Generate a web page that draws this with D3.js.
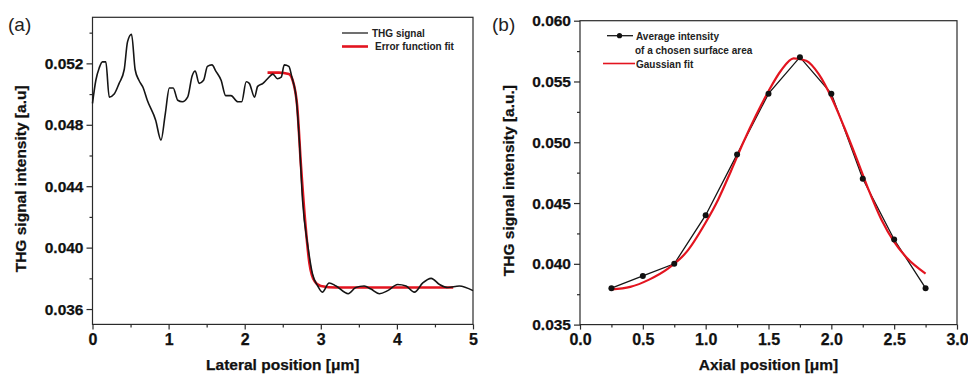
<!DOCTYPE html>
<html><head><meta charset="utf-8">
<script src="https://cdn.jsdelivr.net/npm/d3@7"></script>
<style>
html,body{margin:0;padding:0;background:#fff;}
svg{display:block;font-family:"Liberation Sans",Arial,sans-serif;}
</style></head>
<body><svg id="chart" width="968" height="375"></svg>
<script>
// ---------- Panel (a) data ----------
const thgX = [0,0.044,0.088,0.13,0.175,0.22,0.285,0.35,0.417,0.46,0.513,0.56,0.61,0.667,0.72,0.83,0.9,0.956,1.01,1.06,1.12,1.18,1.25,1.31,1.35,1.40,1.46,1.51,1.57,1.62,1.69,1.75,1.82,1.91,1.96,2.02,2.06,2.13,2.17,2.24,2.30,2.37,2.43,2.48,2.52,2.58,2.62,2.68,2.72,2.76,2.83,2.89,2.96,3.02,3.11,3.2,3.36,3.46,3.57,3.66,3.77,3.88,4.01,4.12,4.23,4.34,4.45,4.56,4.67,4.82,5.0];
const thgY = [0.0494,0.0509,0.0517,0.0521,0.0521,0.0498,0.0500,0.0507,0.0516,0.0534,0.0539,0.0516,0.0509,0.0504,0.0496,0.0483,0.0470,0.0487,0.0504,0.0504,0.0496,0.0495,0.0498,0.0512,0.0515,0.0507,0.0509,0.0518,0.0519,0.0515,0.0509,0.0499,0.0499,0.0495,0.0495,0.0508,0.0507,0.0498,0.0505,0.0507,0.0510,0.0513,0.0510,0.0511,0.0519,0.0518,0.0511,0.0496,0.0468,0.0431,0.0401,0.0383,0.0375,0.0371,0.0377,0.0375,0.0370,0.0374,0.0375,0.0373,0.0370,0.0372,0.0376,0.0375,0.0371,0.0377,0.0380,0.0376,0.0374,0.0375,0.0372];
const erfX = [2.30,2.45,2.58,2.63,2.69,2.74,2.80,2.85,2.92,3.00,3.20,4.00,4.74];
const erfY = [0.0514,0.0514,0.0513,0.0509,0.0492,0.0453,0.0414,0.0390,0.0378,0.0375,0.0374,0.0374,0.0374];
const aXTicks = [0,1,2,3,4,5];
const aXMinor = [0.5,1.5,2.5,3.5,4.5];
const aYTicks = [0.036,0.040,0.044,0.048,0.052];
const aYMinor = [0.038,0.042,0.046,0.050,0.054];

// ---------- Panel (b) data ----------
const avgX = [0.25,0.5,0.75,1.0,1.25,1.5,1.75,2.0,2.25,2.5,2.75];
const avgY = [0.038,0.039,0.040,0.044,0.049,0.054,0.057,0.054,0.047,0.042,0.038];
const gaussX = [0.25,0.4,0.55,0.7,0.85,1.0,1.1,1.2,1.3,1.4,1.5,1.6,1.7,1.8,1.9,2.0,2.1,2.2,2.3,2.4,2.5,2.6,2.75];
const gaussY = [0.0379,0.0381,0.0387,0.0396,0.0410,0.0434,0.0453,0.0476,0.0500,0.0522,0.0542,0.0559,0.0569,0.0567,0.0556,0.0537,0.0513,0.0487,0.0460,0.0436,0.0418,0.0405,0.0392];
const bXTicks = [0,0.5,1.0,1.5,2.0,2.5,3.0];
const bXMinor = [0.25,0.75,1.25,1.75,2.25,2.75];
const bYTicks = [0.035,0.040,0.045,0.050,0.055,0.060];
const bYMinor = [0.0375,0.0425,0.0475,0.0525,0.0575];

const RED = "#e3141f", BLK = "#151515", AX = "#2a2a2a";
const svg = d3.select("#chart");

function panel(o){
  const g = svg.append("g");
  const x = d3.scaleLinear().domain(o.xd).range(o.xr);
  const y = d3.scaleLinear().domain(o.yd).range(o.yr);
  g.append("rect").attr("x",o.xr[0]).attr("y",o.yr[1])
    .attr("width",o.xr[1]-o.xr[0]).attr("height",o.yr[0]-o.yr[1])
    .attr("fill","none").attr("stroke",AX).attr("stroke-width",1.2);
  const xa = g.append("g").attr("transform",`translate(0,${o.yr[0]})`)
    .call(d3.axisBottom(x).tickValues(o.xt).tickSize(5).tickPadding(4).tickFormat(o.xf));
  g.append("g").attr("transform",`translate(0,${o.yr[0]})`)
    .call(d3.axisBottom(x).tickValues(o.xm).tickSize(3).tickFormat(""));
  const ya = g.append("g").attr("transform",`translate(${o.xr[0]},0)`)
    .call(d3.axisLeft(y).tickValues(o.yt).tickSize(6).tickPadding(3).tickFormat(d3.format(".3f")));
  g.append("g").attr("transform",`translate(${o.xr[0]},0)`)
    .call(d3.axisLeft(y).tickValues(o.ym).tickSize(3).tickFormat(""));
  g.selectAll(".domain").remove();
  g.selectAll(".tick line").attr("stroke",AX).attr("stroke-width",1.2);
  xa.selectAll("text").attr("font-size",16).attr("font-weight","bold").attr("fill","#111")
    .attr("stroke","#111").attr("stroke-width",0.25);
  ya.selectAll("text").attr("font-size",15.5).attr("font-weight","bold").attr("fill","#111")
    .attr("stroke","#111").attr("stroke-width",0.25);
  g.append("text").attr("x",(o.xr[0]+o.xr[1])/2).attr("y",370).attr("text-anchor","middle")
    .attr("font-size",15.5).attr("font-weight","bold").attr("fill","#111")
    .attr("stroke","#111").attr("stroke-width",0.25).text(o.xtitle);
  g.append("text").attr("transform",`translate(${o.ytx},${(o.yr[0]+o.yr[1])/2+8}) rotate(-90)`)
    .attr("text-anchor","middle").attr("font-size",15.5).attr("font-weight","bold").attr("fill","#111")
    .attr("stroke","#111").attr("stroke-width",0.25).text(o.ytitle);
  g.append("text").attr("x",o.lx).attr("y",31).attr("font-size",19).attr("fill","#222").text(o.label);
  return {g,x,y};
}

// Panel (a)
const A = panel({xd:[0,5], xr:[92.5,473], yd:[0.035,0.055], yr:[324.4,17.3],
  xt:aXTicks, xm:aXMinor, yt:aYTicks, ym:aYMinor, xf:d3.format("d"),
  xtitle:"Lateral position [\u03bcm]", ytitle:"THG signal intensity [a.u]", ytx:26, lx:8, label:"(a)"});
const thg = thgX.map((v,i)=>[v,thgY[i]]);
const erf = erfX.map((v,i)=>[v,erfY[i]]);
A.g.append("path").datum(erf).attr("fill","none").attr("stroke",RED).attr("stroke-width",2.6)
  .attr("d",d3.line().x(d=>A.x(d[0])).y(d=>A.y(d[1])).curve(d3.curveMonotoneX));
A.g.append("path").datum(thg).attr("fill","none").attr("stroke",BLK).attr("stroke-width",1.6)
  .attr("stroke-linejoin","round")
  .attr("d",d3.line().x(d=>A.x(d[0])).y(d=>A.y(d[1])).curve(d3.curveMonotoneX));
A.g.append("line").attr("x1",342).attr("x2",368).attr("y1",33).attr("y2",33).attr("stroke","#333").attr("stroke-width",1.4);
A.g.append("text").attr("x",372).attr("y",36.5).attr("font-size",10).attr("font-weight","bold").attr("fill","#222").text("THG signal");
A.g.append("line").attr("x1",342).attr("x2",368).attr("y1",46.5).attr("y2",46.5).attr("stroke",RED).attr("stroke-width",2.6);
A.g.append("text").attr("x",375).attr("y",50).attr("font-size",10).attr("font-weight","bold").attr("fill","#222").text("Error function fit");

// Panel (b)
const B = panel({xd:[0,3], xr:[580,957], yd:[0.035,0.060], yr:[324.6,20.7],
  xt:bXTicks, xm:bXMinor, yt:bYTicks, ym:bYMinor, xf:d3.format(".1f"),
  xtitle:"Axial position [\u03bcm]", ytitle:"THG signal intensity [a.u.]", ytx:514, lx:492, label:"(b)"});
const avg = avgX.map((v,i)=>[v,avgY[i]]);
const gau = gaussX.map((v,i)=>[v,gaussY[i]]);
B.g.append("path").datum(avg).attr("fill","none").attr("stroke",BLK).attr("stroke-width",1.3)
  .attr("d",d3.line().x(d=>B.x(d[0])).y(d=>B.y(d[1])));
B.g.append("path").datum(gau).attr("fill","none").attr("stroke",RED).attr("stroke-width",2.2)
  .attr("d",d3.line().x(d=>B.x(d[0])).y(d=>B.y(d[1])).curve(d3.curveMonotoneX));
B.g.selectAll("circle.pt").data(avg).enter().append("circle").attr("class","pt")
  .attr("cx",d=>B.x(d[0])).attr("cy",d=>B.y(d[1])).attr("r",3).attr("fill","#111");
B.g.append("line").attr("x1",607).attr("x2",633).attr("y1",35.7).attr("y2",35.7).attr("stroke",BLK).attr("stroke-width",1.3);
B.g.append("circle").attr("cx",619.5).attr("cy",35.7).attr("r",2.6).attr("fill","#111");
B.g.append("text").attr("x",636).attr("y",39.5).attr("font-size",10).attr("font-weight","bold").attr("fill","#222").text("Average intensity");
B.g.append("text").attr("x",635).attr("y",54).attr("font-size",10).attr("font-weight","bold").attr("fill","#222").text("of a chosen surface area");
B.g.append("line").attr("x1",603).attr("x2",635).attr("y1",63.5).attr("y2",63.5).attr("stroke",RED).attr("stroke-width",1.6);
B.g.append("text").attr("x",636).attr("y",67.5).attr("font-size",10).attr("font-weight","bold").attr("fill","#222").text("Gaussian fit");
</script></body></html>
